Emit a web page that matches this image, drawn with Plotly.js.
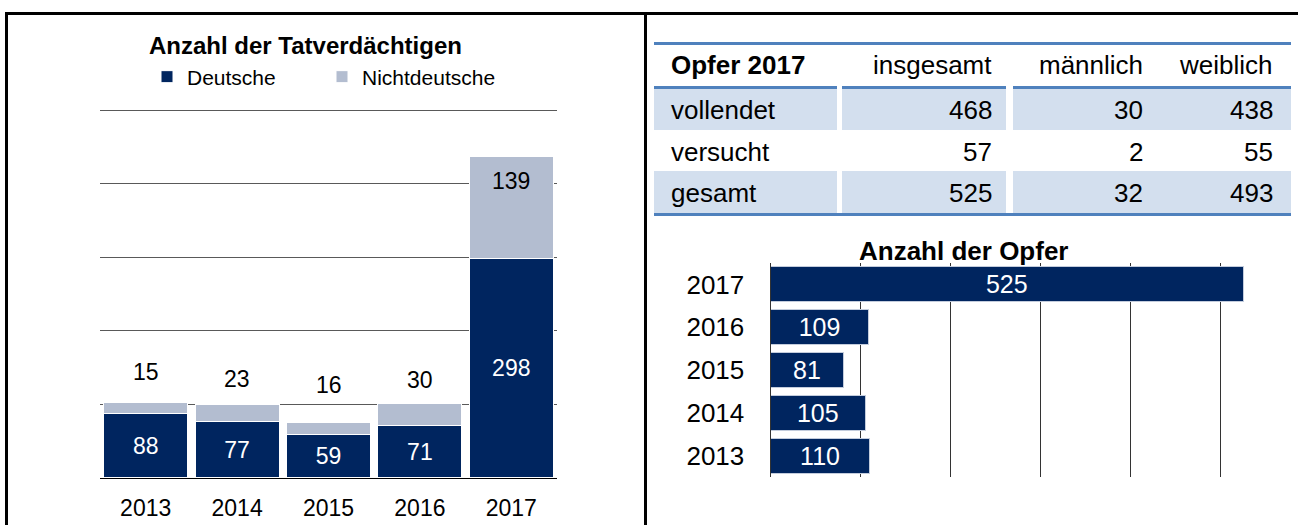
<!DOCTYPE html>
<html><head><meta charset="utf-8">
<script src="https://cdn.plot.ly/plotly-3.0.1.min.js"></script>
<style>html,body{margin:0;padding:0;background:#fff;} #chart{width:1298px;height:525px;}</style>
</head><body><div id="chart"></div>
<script>
// ---- data ----
const years = ['2013', '2014', '2015', '2016', '2017'];
const deutsche = [88, 77, 59, 71, 298];
const nichtdeutsche = [15, 23, 16, 30, 139];
const seriesNames = ['Deutsche', 'Nichtdeutsche'];
const opferYears = ['2013', '2014', '2015', '2016', '2017'];
const opferCounts = [110, 105, 81, 109, 525];
const tableHeader = ['Opfer 2017', 'insgesamt', 'männlich', 'weiblich'];
const tableRows = ['vollendet', 'versucht', 'gesamt'];
const tableInsgesamt = [468, 57, 525];
const tableMaennlich = [30, 2, 32];
const tableWeiblich = [438, 55, 493];
const titleLeft = 'Anzahl der Tatverdächtigen';
const titleRight = 'Anzahl der Opfer';

// ---- layout helpers ----
const W = 1298, H = 525;
const px = x => x / W;
const py = y => 1 - y / H;
const FONT = 'Liberation Sans, Arial, sans-serif';
const NAVY = '#00255F';
const LIGHT = '#B3BDD0';
const TBLUE = '#4F81BD';
const TFILL = '#D3DFEE';
const LS = 23;   // left chart font size
const RS = 26;   // right side font size

const traces = [
  {
    type: 'bar', name: seriesNames[0], x: years, y: deutsche,
    xaxis: 'x', yaxis: 'y', width: 0.92,
    marker: {color: NAVY, line: {color: '#ffffff', width: 1}},
    text: deutsche.map(String), textposition: 'inside', insidetextanchor: 'middle',
    constraintext: 'none', textangle: 0,
    insidetextfont: {color: '#ffffff', size: LS, family: FONT},
    hoverinfo: 'x+y+name'
  },
  {
    type: 'bar', name: seriesNames[1], x: years, y: nichtdeutsche,
    xaxis: 'x', yaxis: 'y', width: 0.92,
    marker: {color: LIGHT, line: {color: '#ffffff', width: 1}},
    hoverinfo: 'x+y+name'
  },
  {
    type: 'bar', orientation: 'h', name: titleRight, y: opferYears, x: opferCounts,
    xaxis: 'x2', yaxis: 'y2', width: 0.82, showlegend: false,
    marker: {color: NAVY, line: {color: '#C3CCDC', width: 1}},
    text: opferCounts.map(String), textposition: 'inside', insidetextanchor: 'middle',
    constraintext: 'none', textangle: 0,
    insidetextfont: {color: '#ffffff', size: RS - 1, family: FONT},
    hoverinfo: 'x+y'
  }
];

// labels of the Nichtdeutsche segments (placed like the original)
const ndLabelShift = [30, 25, 38, 24, -25];
const annotations = [];
years.forEach((yr, i) => {
  annotations.push({
    xref: 'x', yref: 'y', x: i, y: deutsche[i] + nichtdeutsche[i],
    text: String(nichtdeutsche[i]), showarrow: false,
    yanchor: 'middle', yshift: ndLabelShift[i],
    font: {size: LS, color: '#000', family: FONT}
  });
});

// titles
annotations.push({xref: 'paper', yref: 'paper', x: px(305), y: py(45), xanchor: 'center', yanchor: 'middle',
  text: '<b>' + titleLeft + '</b>', showarrow: false, font: {size: 24, color: '#000', family: FONT}});
annotations.push({xref: 'paper', yref: 'paper', x: px(963), y: py(251), xanchor: 'center', yanchor: 'middle',
  text: '<b>' + titleRight + '</b>', showarrow: false, font: {size: RS, color: '#000', family: FONT}});

// table text
const colRight = [994, 1145, 1275];
const labelLeft = 669;
const headerY = 65;
const rowY = [110, 152, 193];
annotations.push({xref: 'paper', yref: 'paper', x: px(labelLeft), y: py(headerY), xanchor: 'left', yanchor: 'middle',
  text: '<b>' + tableHeader[0] + '</b>', showarrow: false, font: {size: RS, color: '#000', family: FONT}});
for (let c = 1; c < 4; c++) {
  annotations.push({xref: 'paper', yref: 'paper', x: px(colRight[c - 1]), y: py(headerY), xanchor: 'right', yanchor: 'middle',
    text: tableHeader[c], showarrow: false, font: {size: RS, color: '#000', family: FONT}});
}
const tableCols = [tableInsgesamt, tableMaennlich, tableWeiblich];
tableRows.forEach((r, i) => {
  annotations.push({xref: 'paper', yref: 'paper', x: px(labelLeft), y: py(rowY[i]), xanchor: 'left', yanchor: 'middle',
    text: r, showarrow: false, font: {size: RS, color: '#000', family: FONT}});
  tableCols.forEach((col, c) => {
    annotations.push({xref: 'paper', yref: 'paper', x: px(colRight[c]), y: py(rowY[i]), xanchor: 'right', yanchor: 'middle',
      text: String(col[i]), showarrow: false, font: {size: RS, color: '#000', family: FONT}});
  });
});

// shapes: frame + table
const shapes = [];
const line = (x0, y0, x1, y1, color, width) => shapes.push({type: 'line', xref: 'paper', yref: 'paper',
  x0: px(x0), y0: py(y0), x1: px(x1), y1: py(y1), line: {color: color, width: width}});
const rect = (x0, y0, x1, y1, color) => shapes.push({type: 'rect', xref: 'paper', yref: 'paper', layer: 'below',
  x0: px(x0), y0: py(y0), x1: px(x1), y1: py(y1), fillcolor: color, line: {width: 0}});
// frame
line(5, 13.5, 1298, 13.5, '#000', 3);
line(6.5, 12, 6.5, 525, '#000', 3);
line(645.5, 12, 645.5, 525, '#000', 3);
// table
const segs = [[654, 837], [842, 1006], [1013, 1291]];
segs.forEach(s => { rect(s[0], 89, s[1], 130, TFILL); rect(s[0], 171, s[1], 213, TFILL); });
line(654, 43.5, 1291, 43.5, TBLUE, 3);
segs.forEach(s => line(s[0], 87.5, s[1], 87.5, TBLUE, 3));
line(654, 214.5, 1291, 214.5, TBLUE, 3);

// left value axis: 0..500 spans 478px..110px (0.736 px per unit); range padded to 510 so the 500 grid line shows
const yTop = 478 - 510 * (368 / 500);

const layout = {
  width: W, height: H,
  margin: {l: 0, r: 0, t: 0, b: 0},
  paper_bgcolor: '#ffffff', plot_bgcolor: 'rgba(0,0,0,0)',
  font: {family: FONT, size: LS, color: '#000'},
  barmode: 'stack',
  showlegend: true,
  legend: {orientation: 'h', traceorder: 'normal', x: px(147), xanchor: 'left', y: py(77), yanchor: 'middle',
    font: {size: 21, color: '#000', family: FONT}, entrywidth: 130, bgcolor: 'rgba(0,0,0,0)'},
  xaxis: {domain: [px(100), px(557)], type: 'category', anchor: 'y', range: [-0.5, 4.5],
    showline: true, linecolor: '#000', linewidth: 1, showgrid: false, zeroline: false,
    ticks: 'outside', ticklen: 9, tickcolor: 'rgba(0,0,0,0)',
    tickfont: {size: LS, color: '#000', family: FONT}, fixedrange: true},
  yaxis: {domain: [py(478), py(yTop)], range: [0, 510], anchor: 'x',
    showgrid: true, gridcolor: '#595959', gridwidth: 1, tickmode: 'array', tickvals: [100, 200, 300, 400, 500],
    showticklabels: false, zeroline: false, ticks: '', fixedrange: true},
  xaxis2: {domain: [px(770.5), 1], range: [0, 586], anchor: 'y2',
    showgrid: true, gridcolor: '#333333', gridwidth: 1, dtick: 100, tick0: 0,
    showticklabels: false, zeroline: false, ticks: '', fixedrange: true},
  yaxis2: {domain: [py(477), py(263)], type: 'category', anchor: 'x2', range: [-0.5, 4.5],
    showline: true, linecolor: '#333333', linewidth: 1, showgrid: false, zeroline: false,
    ticks: 'outside', ticklen: 20, tickcolor: 'rgba(0,0,0,0)',
    tickfont: {size: RS, color: '#000', family: FONT}, fixedrange: true},
  annotations: annotations,
  shapes: shapes
};

Plotly.newPlot('chart', traces, layout, {displayModeBar: false, staticPlot: true});
</script>
</body></html>
